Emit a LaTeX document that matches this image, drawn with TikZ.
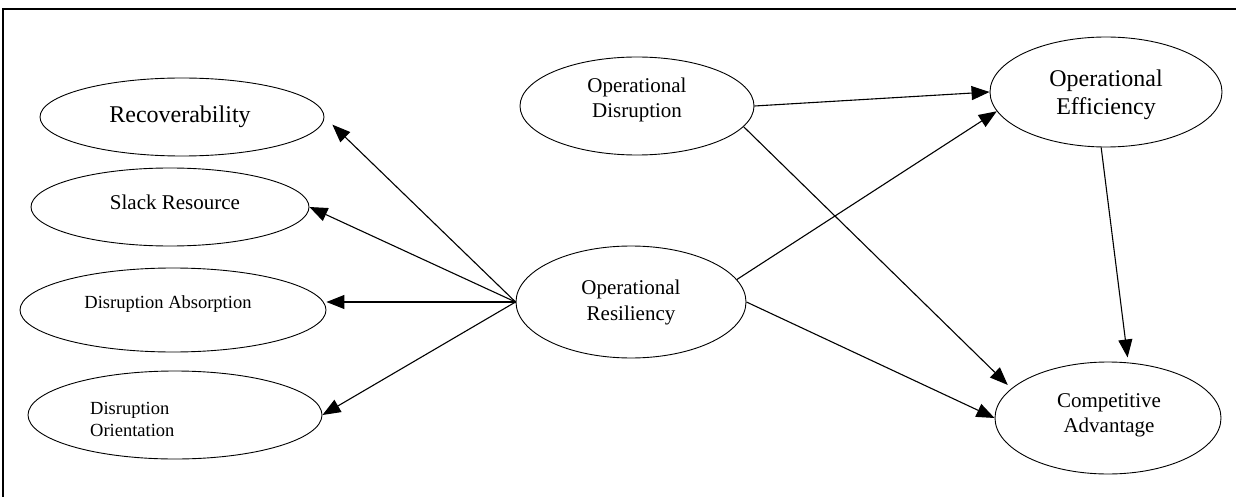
\documentclass[tikz,border=0pt]{standalone}
\usepackage{fontspec}
\setmainfont{Liberation Serif}
\usetikzlibrary{arrows.meta,shapes.geometric}
\begin{document}
\begin{tikzpicture}[x=1pt,y=-1pt,
  ell/.style={draw, ellipse, inner sep=0pt, line width=0.9pt},
  lbl/.style={inner sep=0pt, align=center},
  conn/.style={line width=1.1pt, -{Triangle[length=18pt,width=14pt]}}]
\useasboundingbox (0,0) rectangle (1236,497);
\draw[line width=1.5pt] (3,497) -- (3,9) -- (1236,9);
% ellipses
\node[ell, minimum width=284pt, minimum height=78pt] (rec) at (182,117) {};
\node[ell, minimum width=278pt, minimum height=78pt] (slack) at (170,207) {};
\node[ell, minimum width=306pt, minimum height=84pt] (abs) at (173,310) {};
\node[ell, minimum width=294pt, minimum height=88pt] (ori) at (175,415) {};
\node[ell, minimum width=234pt, minimum height=98pt] (dis) at (637,106) {};
\node[ell, minimum width=232pt, minimum height=110pt] (eff) at (1106,92) {};
\node[ell, minimum width=230pt, minimum height=112pt] (res) at (631,302) {};
\node[ell, minimum width=226pt, minimum height=112pt] (adv) at (1108,418) {};
% labels
\node[lbl, font=\fontsize{24}{28}\selectfont, anchor=base] (recT) at (180,123) {Recoverability};
\node[lbl, font=\fontsize{21}{25}\selectfont, anchor=base] (slackT) at (175,210) {Slack Resource};
\node[lbl, font=\fontsize{18.5}{22}\selectfont, anchor=base] (absT) at (168,308) {Disruption Absorption};
\node[inner sep=0pt, align=left, anchor=west, font=\fontsize{18.5}{22}\selectfont] (oriT) at (90,419) {Disruption\\Orientation};
\node[lbl, font=\fontsize{21}{25}\selectfont] (disT) at (637,99.5) {Operational\\Disruption};
\node[lbl, font=\fontsize{24}{28}\selectfont] (effT) at (1106,95) {Operational\\Efficiency};
\node[lbl, font=\fontsize{21}{26}\selectfont] (resT) at (631,302) {Operational\\Resiliency};
\node[lbl, font=\fontsize{21}{25}\selectfont] (advT) at (1109,415.5) {Competitive\\Advantage};
% connectors
\draw[conn, shorten >=11pt] (res.west) -- (rec.east);
\draw[conn] (res.west) -- (slack.east);
\draw[conn] (res.west) -- (res.west -| abs.east);
\draw[conn] (res.west) -- (ori.east);
\draw[conn] (dis.east) -- (eff.west);
\draw[conn] (res.12) -- (eff.190);
\draw[conn, shorten >=5pt] (dis.-11.5) -- (adv.163);
\draw[conn] (res.east) -- (adv.west);
\draw[conn, shorten >=5pt] (eff.-95) -- (adv.70);
\end{tikzpicture}
\end{document}
